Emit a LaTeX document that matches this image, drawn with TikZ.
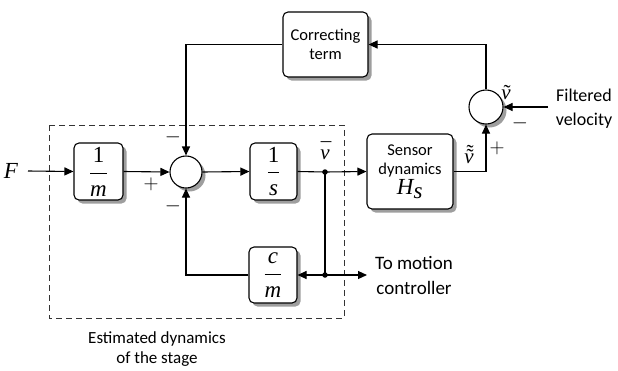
\documentclass[tikz,border=0pt]{standalone}
\usepackage{fontspec}
\setmainfont{Carlito}
\newfontfamily\tms{Liberation Serif}
\usetikzlibrary{arrows.meta,shadows,calc}
\newcommand{\mv}[1]{\mbox{\tms\itshape #1}}
\newcommand{\mfrac}[2]{$\displaystyle\frac{\mbox{\tms #1}}{\mbox{\tms\itshape #2}}$}
\newcommand{\accv}[1]{{\tms\ooalign{\itshape v\cr\hidewidth #1\hidewidth\cr}}}
\tikzset{
  blk/.style={draw, line width=1.1pt, rounded corners=5pt, fill=white, align=center,
    drop shadow={shadow xshift=3.5pt, shadow yshift=-3.5pt, fill=black!38, opacity=1}},
  sumc/.style={draw, line width=1.1pt, circle, fill=white, inner sep=0pt,
    drop shadow={shadow xshift=3.5pt, shadow yshift=-3.5pt, fill=black!38, opacity=1}},
  conn/.style={line width=1.1pt, -{Triangle[length=9pt,width=8pt]}},
  wire/.style={line width=1.1pt},
  lbl/.style={inner sep=0pt, font=\fontsize{21}{21}\selectfont},
  txt/.style={inner sep=0pt, align=center},
  dot/.style={circle, fill=black, inner sep=0pt, minimum size=5.5pt}
}
\begin{document}
\begin{tikzpicture}[x=1pt,y=-1pt]
\useasboundingbox (0,0) rectangle (618,370);
% dashed frame
\draw[line width=1pt, dash pattern=on 6pt off 4pt, black!80] (49,125) rectangle (344,318);
% blocks
\node[blk, minimum width=49pt, minimum height=57pt, font=\fontsize{23}{23}\selectfont] (m1) at (98.5,171.5) {\mfrac{1}{m}};
\node[sumc, minimum size=32pt] (sum1) at (186,172) {};
\node[blk, minimum width=47pt, minimum height=57pt, font=\fontsize{23}{23}\selectfont] (s1) at (273.5,171.5) {\mfrac{1}{s}};
\node[blk, minimum width=86pt, minimum height=75pt, font=\fontsize{16.5}{19}\selectfont] (sens) at (410,171.5) {Sensor\\dynamics\\[1pt]{\fontsize{23}{21}\selectfont\mv{H}$_{\mv{s}}$}};
\node[sumc, minimum size=34pt] (sum2) at (486,107) {};
\node[blk, minimum width=85pt, minimum height=65pt, font=\fontsize{16.5}{19}\selectfont] (corr) at (325.5,44.5) {Correcting\\term};
\node[blk, minimum width=48pt, minimum height=56pt, font=\fontsize{23}{23}\selectfont] (cm) at (273,275) {\mfrac{\itshape c}{m}};
% points
\node[lbl, font=\fontsize{23}{23}\selectfont] (F) at (11,171) {\mv{F}};
\node[dot] (jn1) at (325,172) {};
\node[dot] (jn2) at (325,275) {};
\coordinate (Fs) at (28,171);
\coordinate (out) at (367,275);
\coordinate (fin) at (548,107);
% connectors
\draw[conn] (Fs) -- (m1.west);
\draw[conn] (m1.east) -- (sum1.west);
\draw[conn] (sum1.east) -- (s1.west);
\draw[wire] (s1.east) -- (jn1.center);
\draw[conn] (jn1.center) -- (sens.west);
\draw[conn] (sens.east) -| (sum2.south);
\draw[conn] (fin) -- (sum2.east);
\draw[conn] (sum2.north) |- (corr.east);
\draw[conn] (corr.west) -| (sum1.north);
\draw[wire] (jn1.center) -- (jn2.center);
\draw[conn] (jn2.center) -- (cm.east);
\draw[conn] (jn2.center) -- (out);
\draw[conn] (cm.west) -| (sum1.south);
% signs and labels
\node[lbl] (p1) at (151,184) {$+$};
\node[lbl] (n1) at (173,137) {$-$};
\node[lbl] (n2) at (173,206) {$-$};
\node[lbl] (vbar) at (325,155) {\accv{\kern2pt\raisebox{2pt}{\char"00AF}}};
\node[lbl] (vtt) at (469,159) {\accv{\kern2pt\raisebox{0pt}{\char"02DC}\llap{\raisebox{4.5pt}{\char"02DC}}}};
\node[lbl] (p2) at (497,148) {$+$};
\node[lbl] (vt) at (506,95) {\accv{\kern2pt\char"02DC}};
\node[lbl] (n3) at (520,123) {$-$};
\node[txt, font=\fontsize{18}{24}\selectfont] (filt) at (584,109) {Filtered\\velocity};
\node[txt, font=\fontsize{19}{25}\selectfont] (tomc) at (414,275) {To motion\\controller};
\node[txt, font=\fontsize{17}{20}\selectfont] (est) at (157,349) {Estimated dynamics\\of the stage};
\end{tikzpicture}
\end{document}
